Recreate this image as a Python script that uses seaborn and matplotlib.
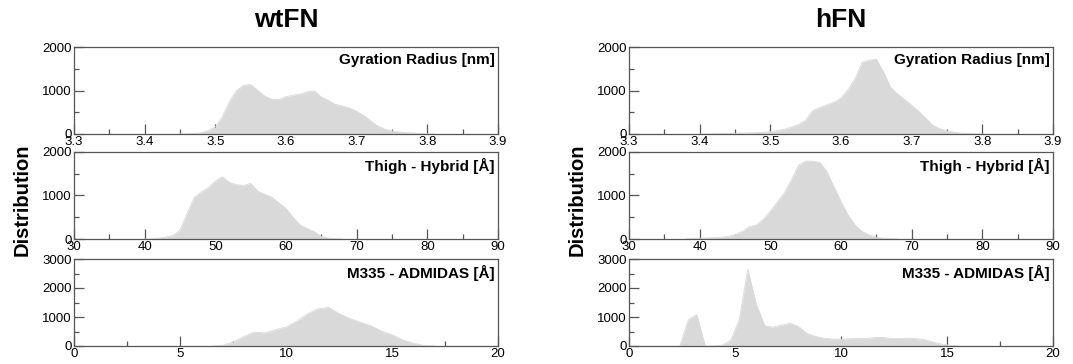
import numpy as np
import pandas as pd
import matplotlib
matplotlib.use("Agg")
import matplotlib.pyplot as plt
import seaborn as sns
from matplotlib.ticker import MultipleLocator

# ---------------- data ----------------
titles = ["wtFN", "hFN"]
panel_labels = ["Gyration Radius [nm]", "Thigh - Hybrid [Å]", "M335 - ADMIDAS [Å]"]
ylabel = "Distribution"

# wtFN gyration radius
wt_rg_x = [3.45, 3.46, 3.47, 3.48, 3.49, 3.50, 3.51, 3.52, 3.53, 3.54, 3.55, 3.56, 3.57,
           3.58, 3.59, 3.60, 3.61, 3.62, 3.63, 3.64, 3.65, 3.66, 3.67, 3.68, 3.69, 3.70,
           3.71, 3.72, 3.73, 3.74, 3.75, 3.76, 3.77, 3.78, 3.79, 3.80, 3.81]
wt_rg_y = [0, 5, 10, 30, 80, 160, 400, 750, 1000, 1120, 1140, 1000, 870,
           800, 790, 860, 890, 920, 970, 990, 850, 770, 680, 640, 600, 520,
           420, 300, 180, 110, 70, 50, 30, 20, 10, 5, 0]

# wtFN thigh - hybrid
wt_th_x = [40, 41, 42, 43, 44, 45, 46, 47, 48, 49, 50, 51, 52, 53, 54, 55, 56, 57,
           58, 59, 60, 61, 62, 63, 64, 65, 66, 67, 68]
wt_th_y = [0, 5, 20, 45, 80, 200, 590, 950, 1080, 1180, 1330, 1430, 1300, 1250, 1230,
           1280, 1100, 1030, 960, 830, 700, 500, 320, 240, 170, 60, 20, 8, 0]

# wtFN M335 - ADMIDAS
wt_m_x = [6.5, 7.0, 7.5, 8.0, 8.5, 9.0, 9.5, 10.0, 10.5, 11.0, 11.5, 12.0, 12.5,
          13.0, 13.5, 14.0, 14.5, 15.0, 15.5, 16.0, 16.5, 17.0]
wt_m_y = [0, 20, 140, 320, 480, 450, 560, 650, 850, 1100, 1280, 1330, 1120,
          950, 820, 700, 510, 390, 210, 100, 20, 0]

# hFN gyration radius
h_rg_x = [3.40, 3.41, 3.42, 3.43, 3.44, 3.45, 3.46, 3.47, 3.48, 3.49, 3.50, 3.51, 3.52,
          3.53, 3.54, 3.55, 3.56, 3.57, 3.58, 3.59, 3.60, 3.61, 3.62, 3.63, 3.64, 3.65,
          3.66, 3.67, 3.68, 3.69, 3.70, 3.71, 3.72, 3.73, 3.74, 3.75, 3.76, 3.77, 3.78,
          3.79, 3.80]
h_rg_y = [0, 3, 5, 8, 10, 15, 20, 25, 30, 40, 55, 80, 110,
          160, 220, 320, 540, 610, 670, 730, 830, 1020, 1280, 1650, 1700, 1720,
          1430, 1080, 920, 790, 660, 520, 360, 200, 120, 75, 40, 20, 10,
          5, 0]

# hFN thigh - hybrid
h_th_x = [38, 39, 40, 41, 42, 43, 44, 45, 46, 47, 48, 49, 50, 51, 52, 53, 54, 55, 56,
          57, 58, 59, 60, 61, 62, 63, 64, 65, 66, 67, 68]
h_th_y = [0, 10, 20, 25, 30, 40, 60, 100, 170, 280, 320, 450, 640, 850, 1070, 1360,
          1700, 1790, 1790, 1760, 1550, 1200, 860, 550, 320, 170, 90, 40, 18, 8, 0]

# hFN M335 - ADMIDAS
h_m_x = [2.4, 2.8, 3.2, 3.6, 4.0, 4.4, 4.8, 5.2, 5.6, 6.0, 6.4, 6.8, 7.2, 7.6, 8.0,
         8.4, 8.8, 9.2, 9.6, 10.0, 10.4, 10.8, 11.2, 11.6, 12.0, 12.4, 12.8, 13.2,
         13.6, 14.0, 14.4, 14.8, 15.2, 15.6]
h_m_y = [0, 910, 1080, 0, 0, 30, 200, 900, 2650, 1450, 700, 650, 720, 780, 670,
         430, 330, 270, 240, 240, 250, 255, 260, 290, 290, 260, 260, 270,
         250, 210, 120, 60, 20, 0]

series = [
    [(wt_rg_x, wt_rg_y), (wt_th_x, wt_th_y), (wt_m_x, wt_m_y)],
    [(h_rg_x, h_rg_y), (h_th_x, h_th_y), (h_m_x, h_m_y)],
]

xlims = [(3.3, 3.9), (30, 90), (0, 20)]
xmajor = [0.1, 10, 5]
ylims = [(0, 2000), (0, 2000), (0, 3000)]

# ---------------- style ----------------
sns.set_style("ticks")
plt.rcParams["font.family"] = ["Liberation Sans", "DejaVu Sans"]
plt.rcParams["text.color"] = "black"
plt.rcParams["xtick.labelcolor"] = "black"
plt.rcParams["ytick.labelcolor"] = "black"

FILL = "#d9d9d9"
SPINE = "#555555"

fig = plt.figure(figsize=(10.73, 3.64), dpi=100)
W, H = 1073, 364
col_left = [74, 629]
ax_w = 424
row_top = [47, 152, 259]
ax_h = 87

for c in range(2):
    for r in range(3):
        left = col_left[c] / W
        bottom = 1 - (row_top[r] + ax_h) / H
        ax = fig.add_axes([left, bottom, ax_w / W, ax_h / H])
        xs, ys = series[c][r]
        df = pd.DataFrame({"x": xs, "y": ys})
        sns.lineplot(data=df, x="x", y="y", ax=ax, color=FILL, linewidth=0.6)
        ax.fill_between(df["x"], df["y"], color=FILL, linewidth=0)
        ax.set_xlim(*xlims[r])
        ax.set_ylim(*ylims[r])
        ax.xaxis.set_major_locator(MultipleLocator(xmajor[r]))
        ax.xaxis.set_minor_locator(MultipleLocator(xmajor[r] / 2))
        ax.yaxis.set_major_locator(MultipleLocator(1000))
        ax.yaxis.set_minor_locator(MultipleLocator(500))
        ax.set_xlabel("")
        ax.set_ylabel("")
        for s in ax.spines.values():
            s.set_visible(True)
            s.set_color(SPINE)
            s.set_linewidth(0.9)
        ax.tick_params(which="both", direction="in", top=False, right=False,
                       color=SPINE, width=0.9, labelsize=9.5, pad=1.5,
                       labelcolor="black")
        ax.tick_params(which="major", length=7)
        ax.tick_params(which="minor", length=3.5)
        ax.text(0.992, 0.93, panel_labels[r], transform=ax.transAxes,
                ha="right", va="top", fontsize=11, fontweight="bold",
                color="black")
        if r == 0:
            fig.text(left + ax_w / W / 2, 0.945, titles[c], ha="center", va="center",
                     fontsize=19, fontweight="bold", color="black")
    fig.text((col_left[c] - 52) / W, 0.45, ylabel, rotation=90, ha="center",
             va="center", fontsize=14.5, fontweight="bold", color="black")

fig.savefig("out.png", dpi=100)
